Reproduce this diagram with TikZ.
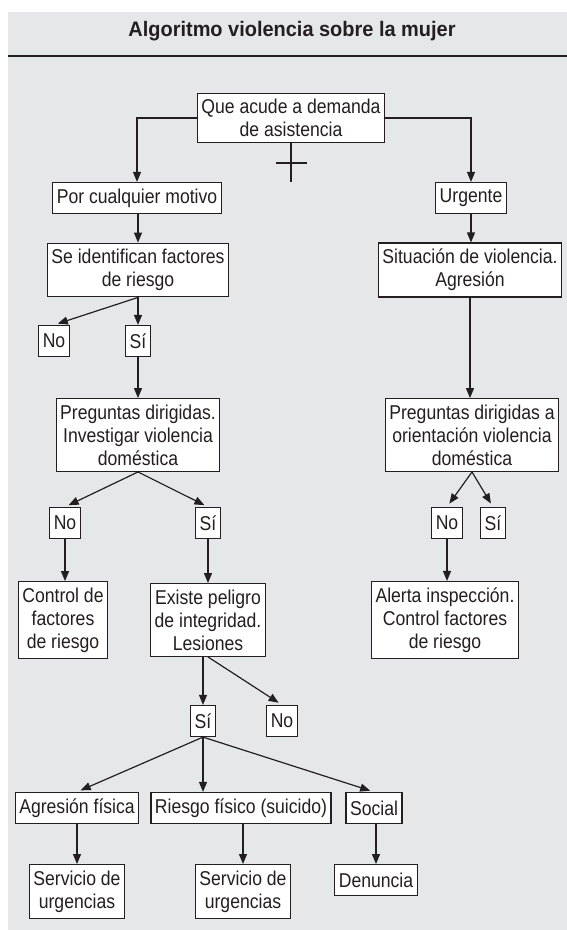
\documentclass[tikz,border=0pt]{standalone}
\usepackage{fontspec}
\setmainfont{Liberation Sans}[FakeStretch=0.88]
\newfontfamily\algotitlefont{Liberation Sans}[FakeStretch=0.95]
\usetikzlibrary{arrows.meta}
\definecolor{algogray}{RGB}{230,231,232}
\definecolor{algoink}{RGB}{35,31,32}
\tikzset{
  algobox/.style={draw=algoink, line width=1.2pt, fill=white, align=center,
    inner xsep=4pt, inner ysep=6pt, minimum height=31pt, text=algoink,
    font=\fontsize{20}{23}\selectfont},
  algoline/.style={algoink, line width=1.2pt},
  algoarrow/.style={-{Triangle[length=10pt,width=8pt]}, algoline},
  algobranch/.style={algoarrow, shorten >=4pt},
}

\begin{document}
\begin{tikzpicture}[x=1pt, y=-1pt]
  \useasboundingbox (0,0) rectangle (567,930);
  \fill[algogray] (8,12) rectangle (567,930);
  \draw[algoink, line width=2.2pt] (8,56) -- (567,56);
  \node[text=algoink, font=\algotitlefont\bfseries\fontsize{21}{24}\selectfont]
    (title) at (292,31) {Algoritmo violencia sobre la mujer};

  % boxes
  \node[algobox] (acude) at (291,118) {Que acude a demanda\\de asistencia};
  \node[algobox] (motivo) at (137,198) {Por cualquier motivo};
  \node[algobox] (urgente) at (471,198) {Urgente};
  \node[algobox] (factores) at (138,270) {Se identifican factores\\de riesgo};
  \node[algobox] (agresion) at (470,270) {Situación de violencia.\\Agresión};
  \node[algobox] (noA) at (54,341) {No};
  \node[algobox] (siA) at (138,341) {Sí};
  \node[algobox] (investigar) at (138,435) {Preguntas dirigidas.\\Investigar violencia\\doméstica};
  \node[algobox] (orientar) at (472,435) {Preguntas dirigidas a\\orientación violencia\\doméstica};
  \node[algobox] (noB) at (65,523) {No};
  \node[algobox] (siB) at (208,523) {Sí};
  \node[algobox] (noC) at (447,523) {No};
  \node[algobox] (siC) at (493,523) {Sí};
  \node[algobox] (control) at (63,620) {Control de\\factores\\de riesgo};
  \node[algobox] (peligro) at (208,620) {Existe peligro\\de integridad.\\Lesiones};
  \node[algobox] (alerta) at (445,620) {Alerta inspección.\\Control factores\\de riesgo};
  \node[algobox] (siD) at (203,721) {Sí};
  \node[algobox] (noD) at (282,721) {No};
  \node[algobox] (fisica) at (77,808) {Agresión física};
  \node[algobox] (suicidio) at (241,808) {Riesgo físico (suicido)};
  \node[algobox] (social) at (374,808) {Social};
  \node[algobox, anchor=north] (urgA) at (77,864) {Servicio de\\urgencias};
  \node[algobox, anchor=north] (urgB) at (243,864) {Servicio de\\urgencias};
  \node[algobox, anchor=north] (denuncia) at (376,864) {Denuncia};

  % cross mark under the first box
  \coordinate (crossend) at (291,182);
  \coordinate (crossL) at (276,163);
  \coordinate (crossR) at (307,163);
  \draw[algoline] (acude.south) -- (crossend);
  \draw[algoline] (crossL) -- (crossR);

  % connectors
  \draw[algoarrow] (acude.west) -| (motivo.north);
  \draw[algoarrow] (acude.east) -| (urgente.north);
  \draw[algoarrow] (factores.north |- motivo.south) -- (factores.north);
  \draw[algoarrow] (urgente.south) -- (urgente.south |- agresion.north);
  \draw[algobranch] (factores.south) -- (noA.north);
  \draw[algoarrow] (factores.south) -- (siA.north);
  \draw[algoarrow] (siA.south) -- (investigar.north);
  \draw[algoarrow] (agresion.south) -- (agresion.south |- orientar.north);
  \draw[algobranch] (investigar.south) -- (noB.north);
  \draw[algobranch] (investigar.south) -- (siB.north);
  \draw[algobranch] (orientar.south) -- (noC.north);
  \draw[algobranch] (orientar.south) -- (siC.north);
  \draw[algoarrow] (noB.south) -- (noB.south |- control.north);
  \draw[algoarrow] (siB.south) -- (peligro.north);
  \draw[algoarrow] (noC.south) -- (noC.south |- alerta.north);
  \draw[algoarrow] (siD.north |- peligro.south) -- (siD.north);
  \draw[algobranch] (peligro.south) -- (noD.north);
  \draw[algobranch] (siD.south) -- (fisica.north);
  \draw[algoarrow] (siD.south) -- (siD.south |- suicidio.north);
  \draw[algobranch] (siD.south) -- (social.north);
  \draw[algoarrow] (fisica.south) -- (urgA.north);
  \draw[algoarrow] (urgB.north |- suicidio.south) -- (urgB.north);
  \draw[algoarrow] (denuncia.north |- social.south) -- (denuncia.north);
\end{tikzpicture}
\end{document}
